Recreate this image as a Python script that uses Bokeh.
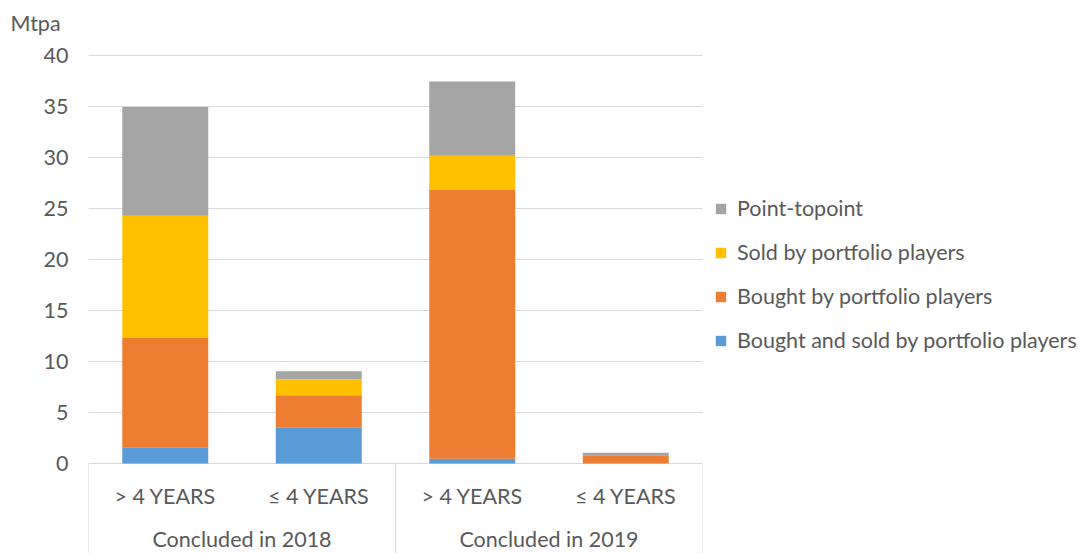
from bokeh.plotting import figure
from bokeh.models import (FactorRange, Range1d, FixedTicker, ColumnDataSource,
                          Legend, LegendItem, Title)
from bokeh.transform import dodge
from bokeh.core.properties import value
from bokeh.embed import file_html
from bokeh.resources import INLINE

# ---------------- data ----------------
groups = ["Concluded in 2018", "Concluded in 2019"]
subcats = ["> 4 YEARS", "≤ 4 YEARS"]
series_names = ["Bought and sold by portfolio players", "Bought by portfolio players",
                "Sold by portfolio players", "Point-topoint"]
bought_and_sold = [1.6, 3.5, 0.46, 0.02]
bought = [10.7, 3.2, 26.4, 0.78]
sold = [12.0, 1.55, 3.3, 0.02]
point_to_point = [10.65, 0.8, 7.3, 0.23]
y_ticks = [0, 5, 10, 15, 20, 25, 30, 35, 40]
y_unit = "Mtpa"

colors = ["#5B9BD5", "#ED7D31", "#FFC000", "#A5A5A5"]
TEXT = "#595959"
GRID = "#D9D9D9"
FONT = "Lato"
FS = "21.5px"
Y0, Y1 = -8.82, 41.47

factors = [(g, s) for g in groups for s in subcats]
keys = ["bs", "b", "s", "p"]
src = ColumnDataSource(dict(x=factors, bs=bought_and_sold, b=bought,
                            s=sold, p=point_to_point))

x_range = FactorRange(*factors, range_padding=0, group_padding=0,
                      factor_padding=0, subgroup_padding=0)
p = figure(x_range=x_range, y_range=Range1d(Y0, Y1),
           frame_width=614, frame_height=513, output_backend="svg",
           toolbar_location=None,
           min_border_left=88, min_border_right=0, min_border_top=40,
           min_border_bottom=0, outline_line_color=None)
p.title = Title(text=y_unit, align="left", offset=-78, text_font=FONT,
                text_font_size=FS, text_color=TEXT, text_font_style="normal",
                standoff=10)

rs = p.vbar_stack(keys, x="x", width=0.56, source=src, color=colors,
                  line_color=None)

# axes
p.xaxis.visible = False
p.xgrid.visible = False
p.yaxis.ticker = FixedTicker(ticks=y_ticks)
p.yaxis.axis_line_color = None
p.yaxis.major_tick_line_color = None
p.yaxis.minor_tick_line_color = None
p.yaxis.major_tick_out = 0
p.yaxis.major_label_standoff = 20
p.yaxis.major_label_text_font = FONT
p.yaxis.major_label_text_font_size = FS
p.yaxis.major_label_text_color = TEXT
p.ygrid.ticker = FixedTicker(ticks=y_ticks)
p.ygrid.grid_line_color = GRID
p.ygrid.grid_line_width = 1

# category axis drawn below zero (multi-level, Excel style)
SUB_Y = -3.14
GRP_Y = -7.4
lab_src = ColumnDataSource(dict(x=factors, y=[SUB_Y] * len(factors),
                                t=[f[1] for f in factors]))
p.text(x="x", y="y", text="t", source=lab_src, text_align="center",
       text_baseline="middle", text_font=value(FONT), text_font_size=FS,
       text_color=TEXT)
grp_src = ColumnDataSource(dict(x=groups, y=[GRP_Y] * len(groups), t=groups))
p.text(x="x", y="y", text="t", source=grp_src, text_align="center",
       text_baseline="middle", text_font=value(FONT), text_font_size=FS,
       text_color=TEXT)

# separators between groups
first_of_group = [(g, subcats[0]) for g in groups]
sep_left = ColumnDataSource(dict(x=first_of_group, y0=[0] * len(groups),
                                 y1=[Y0] * len(groups)))
p.segment(x0=dodge("x", -0.5, range=x_range), y0="y0",
          x1=dodge("x", -0.5, range=x_range), y1="y1",
          source=sep_left, line_color=GRID, line_width=1)
sep_right = ColumnDataSource(dict(x=[factors[-1]], y0=[0], y1=[Y0]))
p.segment(x0=dodge("x", 0.5, range=x_range), y0="y0",
          x1=dodge("x", 0.5, range=x_range), y1="y1",
          source=sep_right, line_color=GRID, line_width=1)

# legend
items = [LegendItem(label=series_names[i], renderers=[rs[i]]) for i in [3, 2, 1, 0]]
legend = Legend(items=items, location=(12, 200), orientation="vertical",
                border_line_color=None, background_fill_alpha=0,
                label_text_font=FONT, label_text_font_size=FS,
                label_text_color=TEXT, glyph_width=13, glyph_height=13,
                label_standoff=10, label_height=20, label_width=338,
                spacing=18, padding=0, margin=12)
p.add_layout(legend, "right")

open("out.html", "w").write(file_html(p, INLINE))
